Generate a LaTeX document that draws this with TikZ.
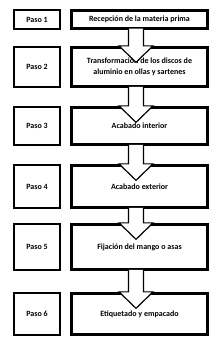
\documentclass[tikz,border=0pt]{standalone}
\usepackage{fontspec}
\setmainfont{Carlito}
\usetikzlibrary{calc}
\tikzset{
  rbox/.style={draw=black, line width=2.8pt, fill=white, minimum width=136pt, inner sep=0pt, align=center, font=\bfseries\fontsize{8}{10.5}\selectfont},
  lbox/.style={draw=black, line width=2.3pt, fill=white, minimum width=46pt, inner sep=0pt, align=center, font=\bfseries\fontsize{8}{10}\selectfont},
  barrow/.style={draw=black, line width=1.2pt, fill=white, line join=miter}
}
\newcommand{\blockarr}[2]{%
  \filldraw[barrow] ($(#1.south)+(-11,-1.4)$) -- ($(#2.north)+(-11,0)$) -- ++(-9.5,0) -- ($(#2.north)+(-3.5,16.5)$) -- ($(#2.north)+(13.5,0)$) -- ++(-9.5,0) -- ($(#1.south)+(4,-1.4)$);}
\begin{document}
\begin{tikzpicture}[x=1pt,y=-1pt]
\useasboundingbox[fill=white] (0,0) rectangle (221,348);
% rows
\node[lbox, minimum height=18.5pt] (l1) at (37,19.5) {Paso 1};
\node[rbox, minimum height=18pt] (r1) at (139.5,19.5) {Recepción de la materia prima};
\node[lbox, minimum height=40pt] (l2) at (37,67) {Paso 2};
\node[rbox, minimum height=39.5pt] (r2) at (139.5,67) {Transformación de los discos de\\aluminio en ollas y sartenes};
\node[lbox, minimum height=38pt] (l3) at (37,126) {Paso 3};
\node[rbox, minimum height=37.5pt] (r3) at (139.5,126) {Acabado interior};
\node[lbox, minimum height=43pt] (l4) at (37,186.5) {Paso 4};
\node[rbox, minimum height=42.5pt] (r4) at (139.5,186.5) {Acabado exterior};
\node[lbox, minimum height=46pt] (l5) at (37,247) {Paso 5};
\node[rbox, minimum height=45.5pt] (r5) at (139.5,247) {Fijación del mango o asas};
\node[lbox, minimum height=42pt] (l6) at (37,314) {Paso 6};
\node[rbox, minimum height=41.5pt] (r6) at (139.5,314) {Etiquetado y empacado};
% arrows
\blockarr{r1}{r2}
\blockarr{r2}{r3}
\blockarr{r3}{r4}
\blockarr{r4}{r5}
\blockarr{r5}{r6}
\end{tikzpicture}
\end{document}
